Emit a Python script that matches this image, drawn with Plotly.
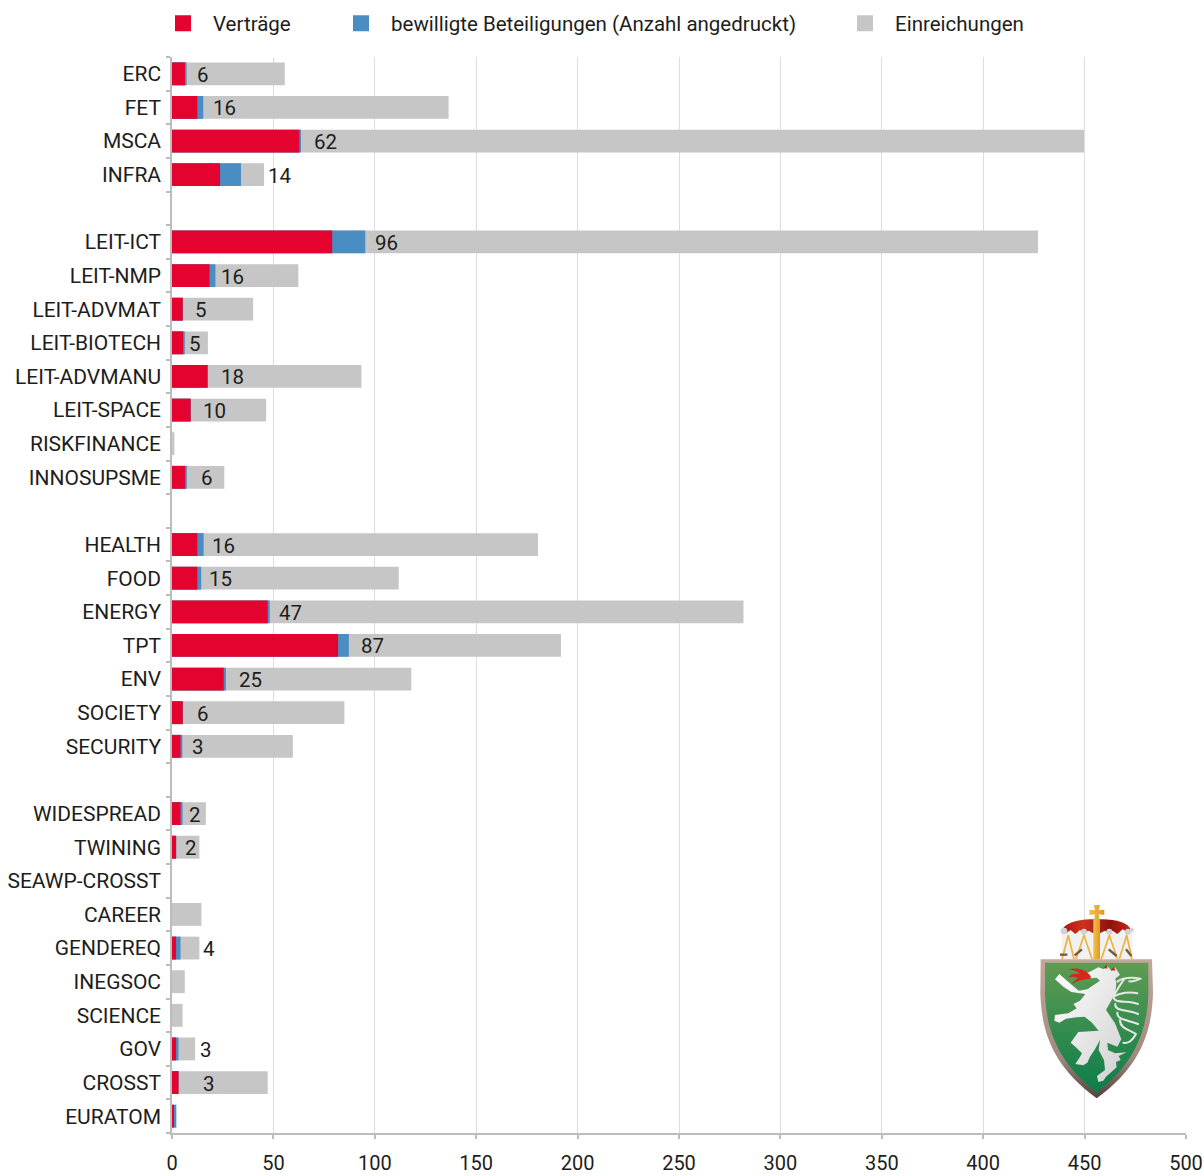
import base64
import plotly.graph_objects as go

# ---- data ----
categories = ["ERC", "FET", "MSCA", "INFRA", " ",
              "LEIT-ICT", "LEIT-NMP", "LEIT-ADVMAT", "LEIT-BIOTECH", "LEIT-ADVMANU",
              "LEIT-SPACE", "RISKFINANCE", "INNOSUPSME", "  ",
              "HEALTH", "FOOD", "ENERGY", "TPT", "ENV", "SOCIETY", "SECURITY", "   ",
              "WIDESPREAD", "TWINING", "SEAWP-CROSST", "CAREER", "GENDEREQ", "INEGSOC",
              "SCIENCE", "GOV", "CROSST", "EURATOM"]
vertraege = [6.4, 12.5, 62.8, 23.7, None,
             79.0, 18.5, 5.3, 5.5, 17.5,
             9.2, 0, 6.5, None,
             12.5, 12.5, 47.2, 81.9, 25.5, 5.3, 4.2, None,
             4.2, 2.0, 0, 0, 2.0, 0,
             0, 2.0, 3.2, 0.8]
beteiligungen = [7.2, 15.4, 63.6, 34.0, None,
                 95.3, 21.4, 5.4, 6.3, 17.7,
                 9.3, 0, 7.3, None,
                 15.6, 14.4, 48.2, 87.2, 26.6, 5.4, 5.1, None,
                 5.2, 2.1, 0, 0, 4.2, 0,
                 0, 3.2, 3.3, 2.1]
einreichungen = [55.6, 136.4, 449.7, 45.4, None,
                 427.0, 62.3, 40.0, 17.7, 93.4,
                 46.4, 1.2, 25.8, None,
                 180.5, 111.8, 281.8, 191.8, 118.0, 85.0, 59.6, None,
                 16.7, 13.5, 0, 14.5, 13.5, 6.3,
                 5.2, 11.4, 47.2, 2.1]
anzahl = [6, 16, 62, 14, None,
          96, 16, 5, 5, 18,
          10, None, 6, None,
          16, 15, 47, 87, 25, 6, 3, None,
          2, 2, None, None, 4, None,
          None, 3, 3, None]
x_ticks = [0, 50, 100, 150, 200, 250, 300, 350, 400, 450, 500]

# ---- styling ----
label_gap_px = [8, 8, 11, 25, 0,
                8, 4, 10, 2, 11,
                10, 0, 12, 0,
                6, 6, 7, 10, 11, 12, 8, 0,
                4, 7, 0, 0, 20, 0,
                0, 20, 22, 0]
RED, BLUE, GREY = "#E4032E", "#4A8DC3", "#C6C6C6"
FONT = "Roboto"
INK = "#1d1d1b"
W, H = 1204, 1176
L, R, T, B = 172, 1186, 57, 1133

EMBLEM = """<svg xmlns="http://www.w3.org/2000/svg" width="600" height="720" viewBox="0 0 600 720">
<defs>
<linearGradient id="rim" x1="0" y1="0" x2="0" y2="1"><stop offset="0" stop-color="#c4a79b"/><stop offset="0.7" stop-color="#a08a80"/><stop offset="1" stop-color="#4f423d"/></linearGradient>
<linearGradient id="grn" x1="0" y1="0" x2="0" y2="1"><stop offset="0" stop-color="#5f9c52"/><stop offset="1" stop-color="#0c7d4b"/></linearGradient>
<linearGradient id="wh" x1="0" y1="0" x2="1" y2="1"><stop offset="0" stop-color="#ffffff"/><stop offset="1" stop-color="#cfcfcf"/></linearGradient>
<linearGradient id="au" x1="0" y1="0" x2="1" y2="0"><stop offset="0" stop-color="#f3c14b"/><stop offset="1" stop-color="#dd9a22"/></linearGradient>
<linearGradient id="cr" x1="0" y1="0" x2="1" y2="0"><stop offset="0" stop-color="#a8190f"/><stop offset="0.3" stop-color="#d0301f"/><stop offset="0.7" stop-color="#8f120c"/><stop offset="1" stop-color="#c52a1c"/></linearGradient>
</defs>
<rect x="185" y="145" width="212" height="92" fill="#f1f1f1"/>
<path d="M187,150 C195,125 250,115 290,118 C340,115 385,125 393,150 L382,156 L368,148 L352,162 L338,152 L328,158 L314,152 L300,160 L280,160 L266,152 L252,158 L240,150 L226,162 L212,150 L200,158 Z" fill="url(#cr)"/>
<g fill="none" stroke="#eeb23a" stroke-width="5">
<path d="M186,237 L205,166 L222,237"/><path d="M228,237 L252,166 L276,237"/><path d="M304,237 L328,166 L352,237"/><path d="M358,237 L380,166 L396,237"/>
</g>
<g stroke="#6b5a4c" stroke-width="7" fill="none"><path d="M180,224 L202,224"/><path d="M224,226 L246,208"/><path d="M326,208 L350,228"/><path d="M378,208 L394,228"/></g>
<g fill="#d2d2d2"><circle cx="192" cy="153" r="10"/><circle cx="252" cy="155" r="9"/><circle cx="328" cy="155" r="9"/><circle cx="384" cy="155" r="9"/><circle cx="396" cy="150" r="6"/></g>
<rect x="280" y="118" width="20" height="120" fill="url(#au)"/>
<path d="M281,75 H300 L296,91 L313,89 V105 L296,103 L299,122 H282 L285,103 L268,105 V89 L285,91 Z" fill="url(#au)"/>
<path d="M122,238 L456,238 L459,340 C455,460 420,560 290,655 C160,560 125,460 121,340 Z" fill="url(#rim)"/>
<path d="M135,248 L445,248 L445,340 C442,450 405,550 290,637 C175,550 138,450 135,340 Z" fill="url(#grn)"/>
<g fill="none" stroke="#e6e6e6" stroke-width="6" stroke-linecap="round" stroke-linejoin="round">
<path d="M352,305 C372,290 400,292 422,296 C408,302 398,306 388,304"/>
<path d="M372,298 C360,315 350,330 340,350 C360,338 390,334 412,340"/>
<path d="M340,350 C342,372 380,360 414,372"/>
<path d="M346,372 C342,395 385,388 414,402"/>
<path d="M352,398 C350,420 385,420 414,432"/>
<path d="M360,420 C360,445 385,448 408,462 C398,480 385,492 370,488"/>
</g>
<path d="M250,283 L270,275 L295,262 L312,268 L322,257 L335,274 L345,262 L360,284 L346,296 L349,312 L345,342 L326,376 L318,390 L345,430 L364,478 L352,500 L322,488 L324,510 L345,520 L380,517 L356,528 L362,540 L348,546 L350,562 L335,575 L318,590 L310,602 L295,606 L291,588 L315,570 L312,540 L296,510 L300,480 L285,508 L270,530 L262,548 L250,556 L226,552 L238,534 L246,520 L226,500 L212,488 L235,456 L296,452 L276,428 L254,410 L230,412 L198,416 L178,428 L163,422 L165,405 L205,400 L230,385 L220,372 L240,362 L256,342 L240,340 L214,336 L190,320 L165,298 L178,282 L194,296 L236,332 L262,328 L300,302 L290,293 L252,296 Z" fill="url(#wh)"/>
<path d="M272,288 C255,265 225,262 206,268 C225,272 236,275 240,282 C222,280 212,282 205,292 C220,288 230,292 234,296 C225,300 218,306 216,312 C235,300 252,298 272,296 Z" fill="#d8261a"/>
<g fill="#c62a1e"><path d="M310,263 L322,254 L322,266 Z"/><path d="M332,270 L342,260 L346,272 Z"/></g>
</svg>"""
EMBLEM_URI = "data:image/svg+xml;base64," + base64.b64encode(EMBLEM.encode()).decode()

fig = go.Figure()
# bars share one baseline: grey behind, then blue, then red
fig.add_trace(go.Bar(y=categories, x=einreichungen, orientation="h", name="Einreichungen",
                     marker=dict(color=GREY, line=dict(width=0)), width=0.68, showlegend=False))
fig.add_trace(go.Bar(y=categories, x=beteiligungen, orientation="h",
                     name="bewilligte Beteiligungen (Anzahl angedruckt)",
                     marker=dict(color=BLUE, line=dict(width=0)), width=0.68, showlegend=False))
fig.add_trace(go.Bar(y=categories, x=vertraege, orientation="h", name="Verträge",
                     marker=dict(color=RED, line=dict(width=0)), width=0.68, showlegend=False))

# legend keys (16 px squares, each entry placed on its own)
for nm, col, lg in [("Verträge", RED, "legend"),
                    ("bewilligte Beteiligungen (Anzahl angedruckt)", BLUE, "legend2"),
                    ("Einreichungen", GREY, "legend3")]:
    fig.add_trace(go.Scatter(x=[None], y=[None], mode="markers", name=nm, legend=lg, showlegend=True,
                             marker=dict(symbol="square", size=16, color=col, line=dict(width=0))))

annotations = []
for cat, b, n, gap in zip(categories, beteiligungen, anzahl, label_gap_px):
    if n is None:
        continue
    annotations.append(dict(x=b, y=cat, xref="x", yref="y", text=str(n), showarrow=False,
                            xanchor="left", yanchor="middle", xshift=gap, yshift=-1,
                            font=dict(family=FONT, size=20.5, color=INK)))

def legend_at(px):
    return dict(xref="container", yref="container", x=px / W, xanchor="left", y=1 - 23.5 / H, yanchor="middle",
                orientation="h", itemwidth=50, font=dict(family=FONT, size=20.5, color=INK),
                bgcolor="rgba(0,0,0,0)", borderwidth=0, itemclick=False, itemdoubleclick=False)

fig.update_layout(
    width=W, height=H, autosize=False,
    margin=dict(l=L, r=W - R, t=T, b=H - B, pad=0, autoexpand=False),
    paper_bgcolor="white", plot_bgcolor="white",
    barmode="overlay", bargap=0.32,
    font=dict(family=FONT, size=20, color=INK),
    annotations=annotations,
    legend=legend_at(153), legend2=legend_at(331), legend3=legend_at(835),
    xaxis=dict(range=[0, 500], tickmode="array", tickvals=x_ticks, ticktext=[str(t) for t in x_ticks],
               automargin=False,
               showgrid=True, gridcolor="#DDDDDD", gridwidth=1.4, zeroline=False,
               showline=True, linecolor="#BDBDBD", linewidth=1.5,
               ticks="outside", ticklen=4, tickcolor="#BDBDBD", tickwidth=1.5,
               ticklabelstandoff=7, tickfont=dict(family=FONT, size=20, color=INK)),
    yaxis=dict(type="category", categoryorder="array", categoryarray=categories, range=[31.5, -0.5],
               automargin=False,
               tickmode="array", tickvals=categories, ticktext=categories, tickson="boundaries",
               showgrid=False, zeroline=False, showline=True, linecolor="#BDBDBD", linewidth=1.5,
               ticks="outside", ticklen=4, tickcolor="#BDBDBD", tickwidth=1.5,
               ticklabelstandoff=5, tickfont=dict(family=FONT, size=21, color=INK)),
    images=[dict(source=EMBLEM_URI, xref="paper", yref="paper",
                 x=(1000 - L) / (R - L), y=(B - 880) / (B - T), sizex=200 / (R - L), sizey=240 / (B - T),
                 xanchor="left", yanchor="top", sizing="stretch", layer="above")],
)

fig.write_html("out.html", config={"displayModeBar": False},
               post_script="document.body.style.margin='0';document.documentElement.style.overflow='hidden';")
